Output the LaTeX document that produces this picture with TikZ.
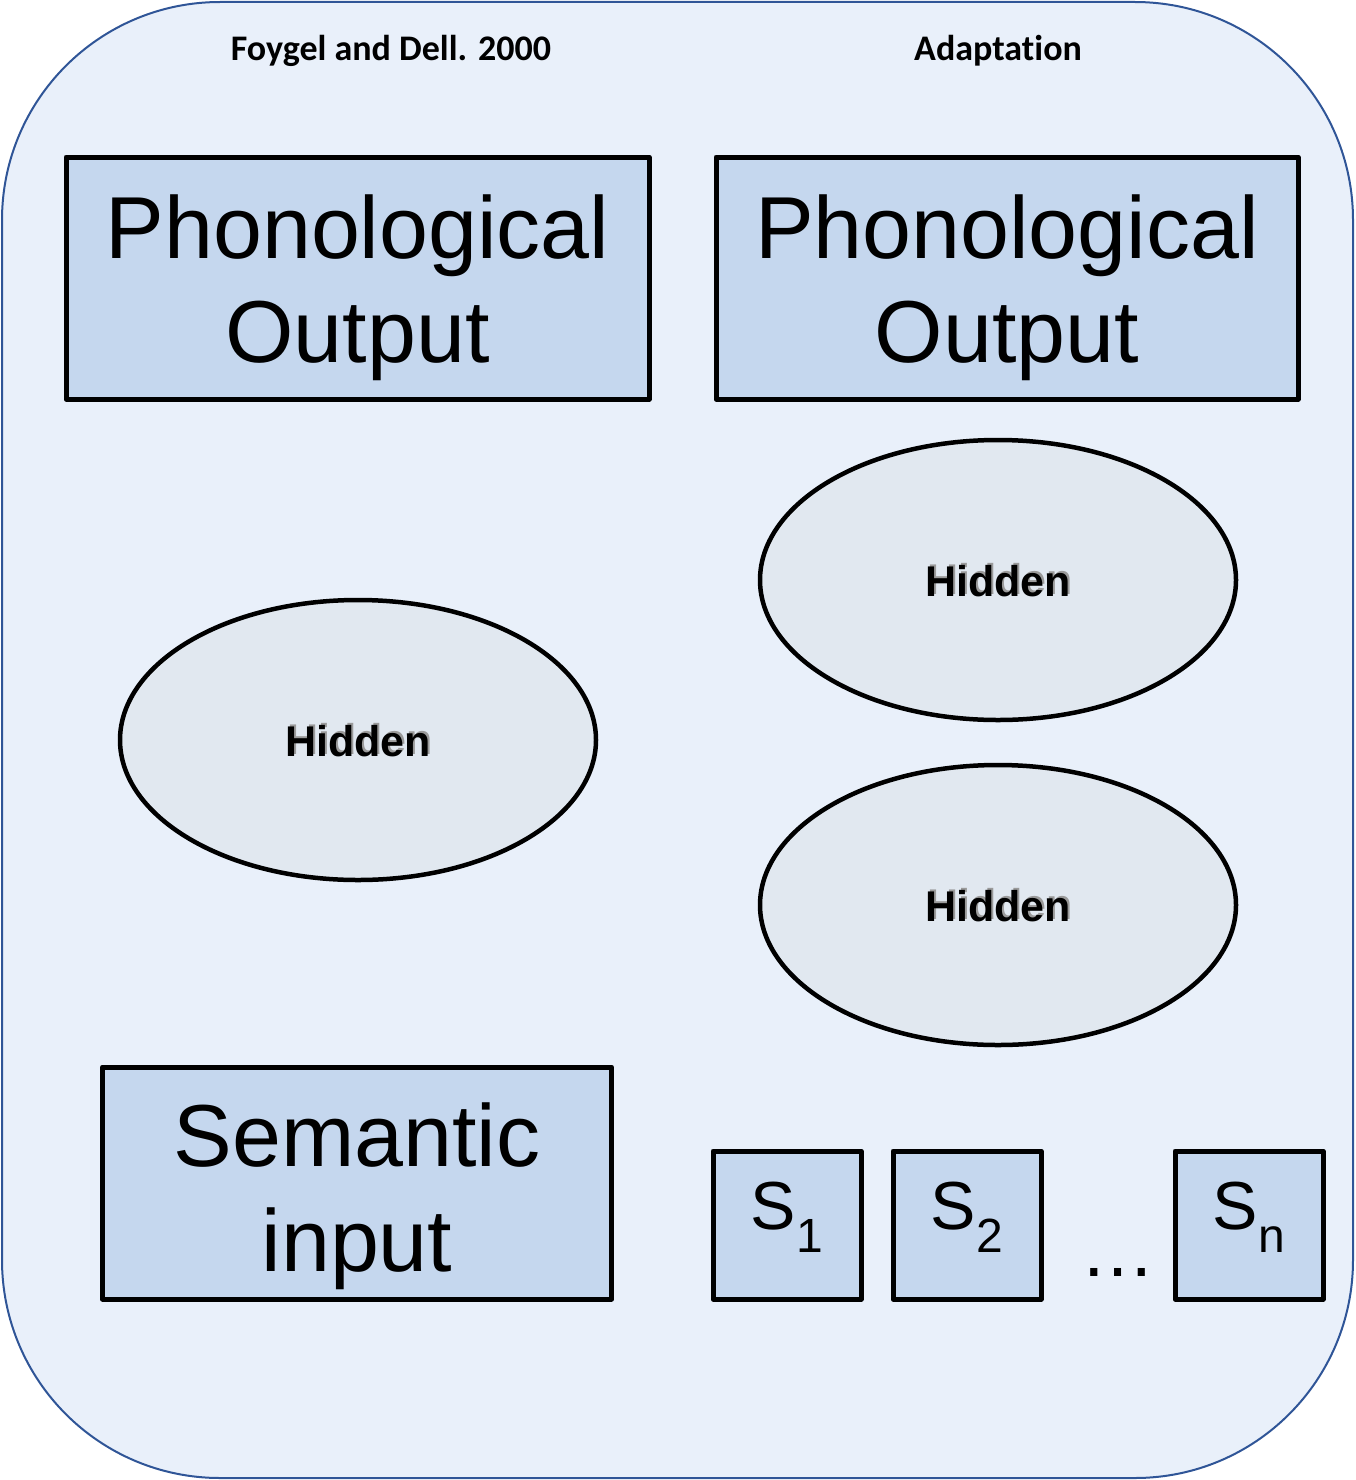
\documentclass[tikz,border=0pt]{standalone}
\usepackage{fontspec}
\setmainfont{Liberation Sans}
\newfontfamily\calib[Ligatures=NoCommon]{Carlito}
\usetikzlibrary{shapes.geometric}
\definecolor{bgfill}{HTML}{E9F0FA}
\definecolor{bgline}{HTML}{2F5597}
\definecolor{boxfill}{HTML}{C5D7EE}
\definecolor{ellfill}{HTML}{E1E8F0}
\definecolor{shadowc}{HTML}{9A9A9A}
\tikzset{
  layerbox/.style={draw=black, line width=5pt, line join=round, fill=boxfill, rectangle, inner sep=0pt},
  hiddenell/.style={draw=black, line width=4.5pt, fill=ellfill, ellipse, inner sep=0pt, minimum width=476pt, minimum height=280pt},
  bigtext/.style={font=\fontsize{88}{104}\selectfont, anchor=base, inner sep=0pt},
  titletext/.style={font=\calib\bfseries\fontsize{36}{40}\selectfont, anchor=base, inner sep=0pt},
  hidtext/.style={font=\bfseries\fontsize{43}{50}\selectfont, anchor=base, inner sep=0pt},
  sbox/.style={layerbox, minimum width=148pt, minimum height=148pt},
  stext/.style={font=\fontsize{68}{72}\selectfont, anchor=base, inner sep=0pt}
}
\newcommand{\hid}[2]{%
  \node[hidtext, text=shadowc] at ([xshift=2pt,yshift=2pt]#1) {Hidden};
  \node[hidtext] (#2) at (#1) {Hidden};}
\newcommand{\subsc}[1]{\raisebox{-23pt}{\fontsize{48}{50}\selectfont #1}}
\begin{document}
\begin{tikzpicture}[x=1pt,y=-1pt]
\useasboundingbox (0,0) rectangle (1355,1480);
\draw[bgline, fill=bgfill, line width=2pt, rounded corners=218pt] (2,2) rectangle (1353,1478);
% titles
\node[titletext] (t1) at (391,61) {Foygel and Dell. 2000};
\node[titletext] (t2) at (998,61) {Adaptation};
% phonological output boxes
\node[layerbox, minimum width=583pt, minimum height=242pt] (po1) at (357.5,278) {};
\node[bigtext] (po1a) at (357.5,258) {Phonological};
\node[bigtext] (po1b) at (357.5,362) {Output};
\node[layerbox, minimum width=582pt, minimum height=242pt] (po2) at (1007,278) {};
\node[bigtext] (po2a) at (1007,258) {Phonological};
\node[bigtext] (po2b) at (1007,362) {Output};
% hidden ellipses
\node[hiddenell] (h1) at (358,740) {};
\node[hiddenell] (h2) at (998,580) {};
\node[hiddenell] (h3) at (998,905) {};
\coordinate (h1c) at (358,756);
\coordinate (h2c) at (998,596);
\coordinate (h3c) at (998,921);
\hid{h1c}{h1t}
\hid{h2c}{h2t}
\hid{h3c}{h3t}
% semantic input
\node[layerbox, minimum width=509pt, minimum height=232pt] (si) at (357,1183) {};
\node[bigtext] (sia) at (357,1166) {Semantic};
\node[bigtext] (sib) at (357,1271) {input};
% S boxes
\node[sbox] (s1) at (787,1225) {};
\node[sbox] (s2) at (967,1225) {};
\node[sbox] (sn) at (1249,1225) {};
\node[stext] (s1t) at (787,1229) {S\subsc{1}};
\node[stext] (s2t) at (967,1229) {S\subsc{2}};
\node[stext] (snt) at (1249,1229) {S\subsc{n}};
\node[font=\fontsize{75}{75}\selectfont, anchor=base, inner sep=0pt] (dots) at (1118,1276) {…};
\end{tikzpicture}
\end{document}
